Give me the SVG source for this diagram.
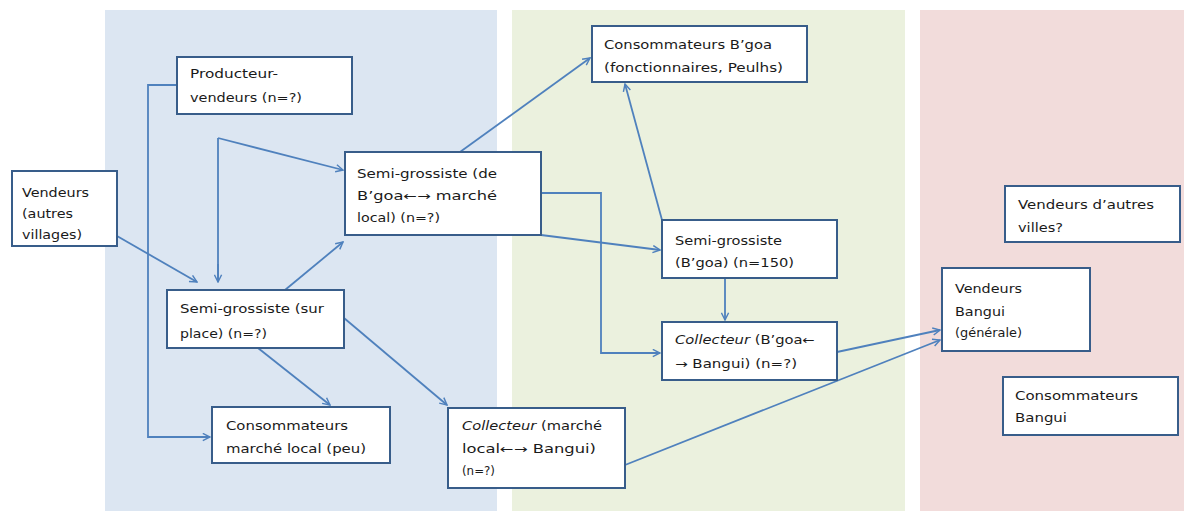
<svg xmlns="http://www.w3.org/2000/svg" width="1184" height="511" viewBox="0 0 1184 511">
<defs>
<marker id="arr" viewBox="0 0 10 10" refX="9" refY="5" markerWidth="9" markerHeight="9" markerUnits="userSpaceOnUse" orient="auto">
<path d="M1,1 L9,5 L1,9" fill="none" stroke="#4f81bd" stroke-width="1.6"/>
</marker>
<style>
.box{fill:#ffffff;stroke:#385d8a;stroke-width:2}
.t{font-family:"DejaVu Sans",sans-serif;font-size:12px;fill:#1a1a1a}
.c{fill:none;stroke:#4f81bd;stroke-width:1.8;marker-end:url(#arr)}
.cn{fill:none;stroke:#4f81bd;stroke-width:1.8}
</style>
</defs>
<rect width="1184" height="511" fill="#ffffff"/>
<rect x="105" y="10" width="392" height="501" fill="#dce6f2"/>
<rect x="512" y="10" width="393" height="501" fill="#ebf1de"/>
<rect x="920" y="10" width="264" height="501" fill="#f2dcdb"/>

<g id="connectors">
<path class="c" d="M117,236 L197,282"/>
<path class="c" d="M177,85 L148,85 L148,437 L210,437"/>
<path class="cn" d="M218,138 L218,282"/>
<path class="c" d="M218,264 L218,282"/>
<path class="c" d="M218,138 L343,170"/>
<path class="c" d="M285,290 L343,242"/>
<path class="c" d="M258,348 L330,405"/>
<path class="c" d="M344,318 L447,405"/>
<path class="c" d="M460,152 L590,58"/>
<path class="c" d="M541,235 L660,250"/>
<path class="c" d="M541,193 L601,193 L601,353 L660,353"/>
<path class="c" d="M662,220 L625,84"/>
<path class="c" d="M725,278 L725,320"/>
<path class="c" d="M837,352 L940,330"/>
<path class="c" d="M625,465 L940,340"/>
</g>

<g id="n1"><rect class="box" x="12" y="171" width="105" height="75"/>
<text class="t" x="22" y="197" textLength="67" lengthAdjust="spacingAndGlyphs">Vendeurs</text>
<text class="t" x="22" y="218" textLength="51" lengthAdjust="spacingAndGlyphs">(autres</text>
<text class="t" x="22" y="239" textLength="60" lengthAdjust="spacingAndGlyphs">villages)</text></g>

<g id="n2"><rect class="box" x="177" y="57" width="175" height="57"/>
<text class="t" x="190" y="78" textLength="88" lengthAdjust="spacingAndGlyphs">Producteur-</text>
<text class="t" x="190" y="102" textLength="112" lengthAdjust="spacingAndGlyphs">vendeurs  (n=?)</text></g>

<g id="n3"><rect class="box" x="345" y="152" width="196" height="83"/>
<text class="t" x="357" y="178" textLength="140" lengthAdjust="spacingAndGlyphs">Semi-grossiste  (de</text>
<text class="t" x="357" y="200" textLength="140" lengthAdjust="spacingAndGlyphs">B’goa←→  marché</text>
<text class="t" x="357" y="222" textLength="83" lengthAdjust="spacingAndGlyphs">local) (n=?)</text></g>

<g id="n4"><rect class="box" x="167" y="290" width="177" height="58"/>
<text class="t" x="180" y="313" textLength="144" lengthAdjust="spacingAndGlyphs">Semi-grossiste  (sur</text>
<text class="t" x="180" y="338" textLength="87" lengthAdjust="spacingAndGlyphs">place) (n=?)</text></g>

<g id="n5"><rect class="box" x="212" y="407" width="178" height="56"/>
<text class="t" x="226" y="430" textLength="122" lengthAdjust="spacingAndGlyphs">Consommateurs</text>
<text class="t" x="226" y="453" textLength="140" lengthAdjust="spacingAndGlyphs">marché local (peu)</text></g>

<g id="n6"><rect class="box" x="448" y="408" width="177" height="80"/>
<text class="t" x="462" y="430" textLength="140" lengthAdjust="spacingAndGlyphs"><tspan font-style="italic">Collecteur</tspan> (marché</text>
<text class="t" x="462" y="453" textLength="134" lengthAdjust="spacingAndGlyphs">local←→ Bangui)</text>
<text class="t" x="462" y="475" textLength="33" lengthAdjust="spacingAndGlyphs">(n=?)</text></g>

<g id="n7"><rect class="box" x="592" y="26" width="215" height="56"/>
<text class="t" x="604" y="49" textLength="168" lengthAdjust="spacingAndGlyphs">Consommateurs B’goa</text>
<text class="t" x="604" y="72" textLength="179" lengthAdjust="spacingAndGlyphs">(fonctionnaires, Peulhs)</text></g>

<g id="n8"><rect class="box" x="662" y="220" width="175" height="58"/>
<text class="t" x="675" y="245" textLength="107" lengthAdjust="spacingAndGlyphs">Semi-grossiste</text>
<text class="t" x="675" y="267" textLength="119" lengthAdjust="spacingAndGlyphs">(B’goa) (n=150)</text></g>

<g id="n9"><rect class="box" x="662" y="322" width="175" height="58"/>
<text class="t" x="675" y="344" textLength="140" lengthAdjust="spacingAndGlyphs"><tspan font-style="italic">Collecteur</tspan> (B’goa←</text>
<text class="t" x="675" y="368" textLength="122" lengthAdjust="spacingAndGlyphs">→ Bangui) (n=?)</text></g>

<g id="n10"><rect class="box" x="1005" y="186" width="175" height="56"/>
<text class="t" x="1018" y="209" textLength="136" lengthAdjust="spacingAndGlyphs">Vendeurs d’autres</text>
<text class="t" x="1018" y="232" textLength="45" lengthAdjust="spacingAndGlyphs">villes?</text></g>

<g id="n11"><rect class="box" x="942" y="268" width="148" height="83"/>
<text class="t" x="955" y="293" textLength="67" lengthAdjust="spacingAndGlyphs">Vendeurs</text>
<text class="t" x="955" y="316" textLength="50" lengthAdjust="spacingAndGlyphs">Bangui</text>
<text class="t" x="955" y="337" textLength="67" lengthAdjust="spacingAndGlyphs">(générale)</text></g>

<g id="n12"><rect class="box" x="1003" y="377" width="175" height="58"/>
<text class="t" x="1015" y="400" textLength="123" lengthAdjust="spacingAndGlyphs">Consommateurs</text>
<text class="t" x="1015" y="422" textLength="52" lengthAdjust="spacingAndGlyphs">Bangui</text></g>
</svg>
